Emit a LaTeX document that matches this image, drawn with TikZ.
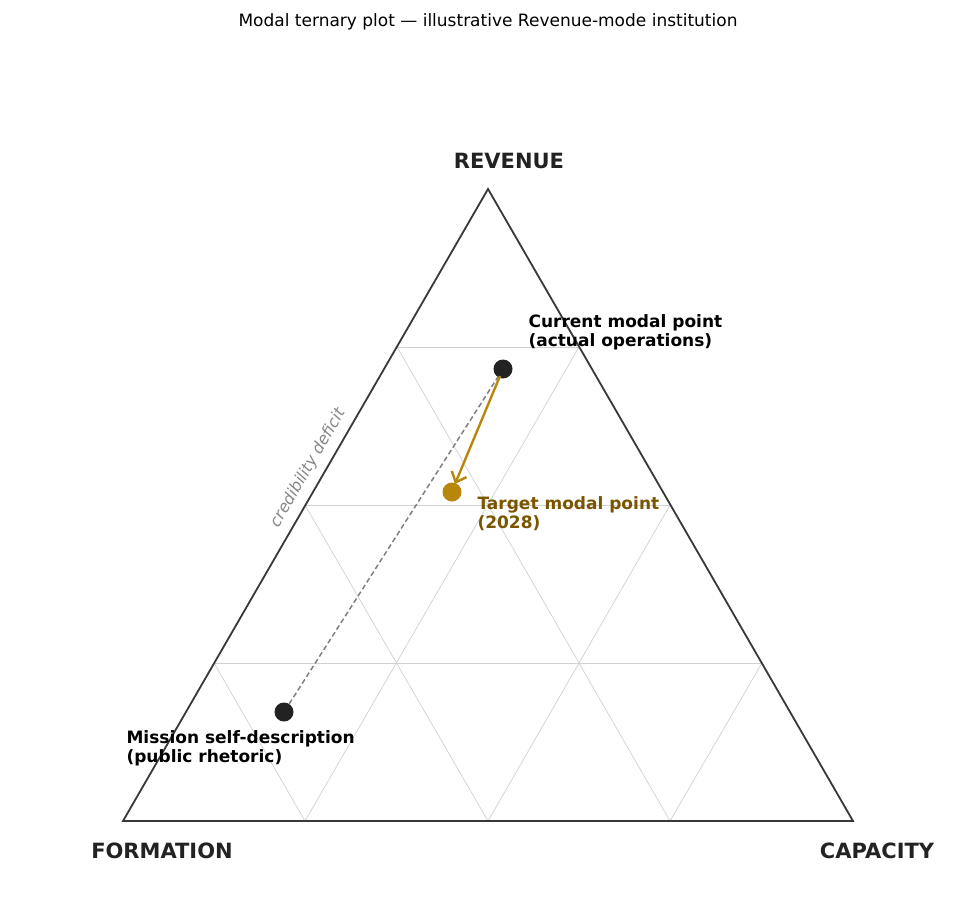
\documentclass[tikz,border=0pt]{standalone}
\usepackage{fontspec}
\setmainfont{DejaVu Sans}
\usetikzlibrary{arrows.meta}
\definecolor{gold}{HTML}{B8860B}
\definecolor{dgold}{HTML}{7A5500}
\definecolor{ink}{HTML}{222222}
\tikzset{
  gridl/.style={draw=black!18,line width=0.7pt},
  axisl/.style={font=\bfseries\fontsize{21}{23}\selectfont,text=ink},
  lbl/.style={font=\bfseries\fontsize{17}{19}\selectfont,align=left,anchor=west},
  dot/.style={circle,fill=ink,inner sep=0pt,minimum size=19pt}
}
\begin{document}
\begin{tikzpicture}[x=1pt,y=-1pt]
\useasboundingbox (0,0) rectangle (976,923);
\coordinate (L) at (123,821); \coordinate (R) at (853,821); \coordinate (T) at (488,189);
\draw[gridl] (397,347)--(579,347) (305,505)--(670,505) (214,663)--(762,663);
\draw[gridl] (305,821)--(214,663) (488,821)--(305,505) (670,821)--(397,347);
\draw[gridl] (305,821)--(579,347) (488,821)--(670,505) (670,821)--(762,663);
\draw[draw=ink!90,line width=1.8pt] (L)--(R)--(T)--cycle;
\node[font=\fontsize{17}{19}\selectfont] (title) at (488,22) {Modal ternary plot — illustrative Revenue-mode institution};
\node[axisl] (rev) at (509,161) {REVENUE};
\node[axisl] (form) at (162,851) {FORMATION};
\node[axisl] (cap) at (877,851) {CAPACITY};
\node[dot] (cur) at (503,369) {};
\node[dot,fill=gold] (tgt) at (452,492) {};
\node[dot] (mis) at (284,712) {};
\draw[gray,dash pattern=on 5pt off 3pt,line width=1.5pt] (mis)--(cur);
\draw[gold,line width=2.4pt,-{Straight Barb[length=9pt,width=16pt]}] (cur.center)++(-3,7) -- (455,484);
\node[lbl] (curl) at (525,332) {Current modal point\\(actual operations)};
\node[lbl,text=dgold] (tgtl) at (474,514) {Target modal point\\(2028)};
\node[lbl] (misl) at (123,748) {Mission self-description\\(public rhetoric)};
\node[font=\itshape\fontsize{16}{18}\selectfont,text=gray!95,rotate=60] (cd) at (308,468) {credibility deficit};
\end{tikzpicture}
\end{document}
